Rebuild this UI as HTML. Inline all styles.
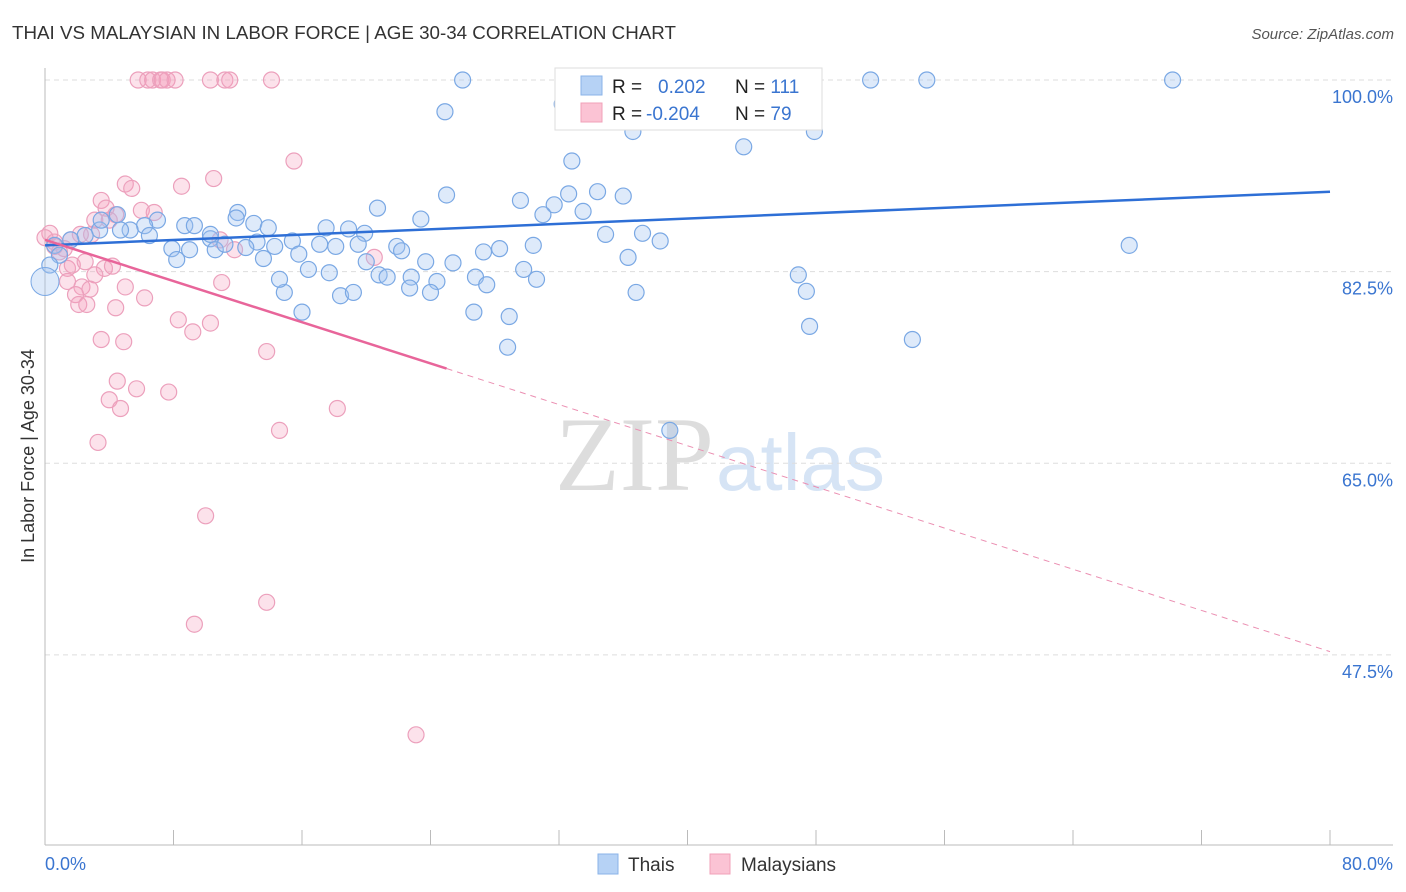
<!DOCTYPE html>
<html><head><meta charset="utf-8"><style>
body{margin:0;background:#fff;font-family:"Liberation Sans",sans-serif;}
svg{display:block}
</style></head><body>
<svg id="c" width="1406" height="892">
<text x="12" y="39" font-size="18" fill="#333" textLength="664" lengthAdjust="spacingAndGlyphs">THAI VS MALAYSIAN IN LABOR FORCE | AGE 30-34 CORRELATION CHART</text>
<text x="1394" y="39" font-size="15" fill="#555" font-style="italic" text-anchor="end">Source: ZipAtlas.com</text>
<text transform="translate(34,456) rotate(-90)" font-size="18" fill="#333" text-anchor="middle">In Labor Force | Age 30-34</text>
<text x="714" y="490" font-size="106" fill="#ddd" text-anchor="end" font-family="Liberation Serif,serif">ZIP</text>
<text x="716" y="490" font-size="80" fill="#d6e4f5">atlas</text>
<g id="grid"></g><g id="pts"></g><g id="trend"></g>
<g>
<rect x="555" y="68" width="267" height="62" fill="#fff" stroke="#ddd"/>
<rect x="581" y="76" width="21" height="19" fill="#b6d2f5" stroke="#8ab3e8"/>
<rect x="581" y="103" width="21" height="19" fill="#fbc3d4" stroke="#f0a0b8"/>
<text x="612" y="93" font-size="19" fill="#222">R = <tspan fill="#3a75d0" x="658">0.202</tspan><tspan fill="#222" x="735">N = </tspan><tspan fill="#3a75d0">111</tspan></text>
<text x="612" y="120" font-size="19" fill="#222">R = <tspan fill="#3a75d0" x="646">-0.204</tspan><tspan fill="#222" x="735">N = </tspan><tspan fill="#3a75d0">79</tspan></text>
</g>
<g>
<rect x="598" y="854" width="20" height="20" fill="#b6d2f5" stroke="#8ab3e8"/>
<text x="628" y="871" font-size="19" fill="#333">Thais</text>
<rect x="710" y="854" width="20" height="20" fill="#fbc3d4" stroke="#f0a0b8"/>
<text x="741" y="871" font-size="19" fill="#333">Malaysians</text>
</g>
</svg>
<script>
const yTicks=[100,82.5,65,47.5];
const yTickLabels=["100.0%","82.5%","65.0%","47.5%"];
const xLabels=["0.0%","80.0%"];
const blueX=[26.0,41.7,51.4,54.9,70.2,24.9,32.2,36.6,47.9,43.5,32.8,25.0,34.4,32.6,36.0,29.6,31.7,33.5,31.0,20.7,23.4,12.0,11.9,8.7,9.3,13.0,13.9,17.5,18.9,19.9,7.0,6.2,34.9,37.2,38.3,67.5,30.4,28.3,27.3,21.9,22.2,19.5,17.1,18.1,15.4,13.2,12.5,14.3,10.3,10.6,7.9,9.0,8.2,11.2,10.3,6.5,5.3,4.7,3.4,2.5,1.6,0.6,0.9,0.3,3.5,4.5,36.3,13.6,15.8,16.4,17.7,20.0,20.8,21.3,22.8,23.7,25.4,24.4,22.7,24.0,26.8,27.5,29.8,30.6,46.9,47.4,36.8,14.9,18.4,19.2,16.0,26.7,28.9,47.6,54.0,28.8,38.9,14.6];
const blueY=[100,100,100,100,100,97.1,97.8,95.3,95.3,93.9,92.6,89.5,89.8,89.6,89.4,89.0,88.6,88.0,87.7,88.3,87.3,87.9,87.4,86.7,86.7,86.9,86.5,86.5,86.4,86.0,87.2,86.7,85.9,86.0,85.3,84.9,84.9,84.6,84.3,84.8,84.4,85.0,85.0,84.8,85.3,85.2,84.7,84.8,85.5,84.5,84.6,84.5,83.6,85.0,85.9,85.8,86.3,86.3,86.3,85.8,85.4,84.9,84.0,83.1,87.2,87.7,83.8,83.7,84.1,82.7,82.4,83.4,82.2,82.0,82.0,83.4,83.3,81.6,81.0,80.6,82.0,81.3,82.7,81.8,82.2,80.7,80.6,80.6,80.3,80.6,78.8,78.8,78.4,77.5,76.3,75.6,68.0,81.8];
const pinkX=[5.8,6.4,6.7,7.2,7.3,7.6,8.1,10.3,11.2,11.5,14.1,15.5,8.5,10.5,5.0,5.4,3.5,3.8,4.4,6.0,6.8,3.1,4.0,2.9,2.2,1.6,1.2,0.6,0.3,0.9,1.4,1.7,2.5,3.7,4.2,3.1,1.4,2.3,2.8,1.9,2.1,2.6,5.0,6.2,4.4,11.0,8.3,10.3,9.2,3.5,4.9,13.8,4.5,5.7,7.7,4.0,4.7,18.2,14.6,3.3,10.0,13.8,9.3,23.1,10.9,11.8,20.5,0,0.6];
const pinkY=[100,100,100,100,100,100,100,100,100,100,100,92.6,90.3,91.0,90.5,90.1,89.0,88.3,87.7,88.1,87.9,87.2,87.2,85.9,85.9,85.4,84.6,84.8,86.0,84.3,82.8,83.1,83.4,82.8,83.0,82.2,81.6,81.1,80.9,80.4,79.5,79.5,81.1,80.1,79.2,81.5,78.1,77.8,77.0,76.3,76.1,75.2,72.5,71.8,71.5,70.8,70.0,70.0,68.0,66.9,60.2,52.3,50.3,40.2,85.4,84.5,83.8,85.6,85.2];
const blueTrend=[84.9,89.8];
const pinkTrend=[85.4,47.8];
const pinkSolidEnd=25;
const NS="http://www.w3.org/2000/svg";
const X0=45,X1=1330,Y100=80,PXPER=10.95;
function sx(v){return X0+(X1-X0)*v/80;}
function sy(v){return Y100+(100-v)*PXPER;}
function mk(tag,attrs,parent){const e=document.createElementNS(NS,tag);for(const k in attrs)e.setAttribute(k,attrs[k]);parent.appendChild(e);return e;}
const grid=document.getElementById('grid');
yTicks.forEach((t,i)=>{
 const l=mk('line',{x1:45,x2:1393,y1:sy(t),y2:sy(t),stroke:'#ddd','stroke-dasharray':'5,4'},grid);
 
 
 const tx=mk('text',{x:1393,y:sy(t)+23,'font-size':18,fill:'#3a75d0','text-anchor':'end'},grid);
 tx.textContent=yTickLabels[i];
 
 
});
mk('line',{x1:45,x2:45,y1:68,y2:845,stroke:'#bbb'},grid);
mk('line',{x1:45,x2:1393,y1:845,y2:845,stroke:'#bbb'},grid);
for(let i=0;i<=10;i++){const t=mk('line',{x1:sx(i*8),x2:sx(i*8),y1:830,y2:845,stroke:'#bbb'},grid);
 
 }
[[0,'start',45],[80,'end',1393]].forEach((a,i)=>{const tx=mk('text',{x:a[2],y:870,'font-size':18,fill:'#3a75d0','text-anchor':a[1]},grid);tx.textContent=xLabels[i];
 
 });
const pts=document.getElementById('pts');
pinkX.forEach((x,i)=>{const c=mk('circle',{cx:sx(x),cy:sy(pinkY[i]),r:8,fill:'rgba(245,160,190,0.3)',stroke:'#eca0bc','stroke-width':1.2},pts);
 
 });
blueX.forEach((x,i)=>{const c=mk('circle',{cx:sx(x),cy:sy(blueY[i]),r:8,fill:'rgba(160,196,240,0.35)',stroke:'#7aa8e4','stroke-width':1.2},pts);
 
 });
const big=mk('circle',{cx:sx(0),cy:sy(81.6),r:14,fill:'rgba(160,196,240,0.35)',stroke:'#7aa8e4'},pts);


const tr=document.getElementById('trend');
const bl=mk('line',{x1:sx(0),y1:sy(blueTrend[0]),x2:sx(80),y2:sy(blueTrend[1]),stroke:'#2e6fd6','stroke-width':2.5},tr);


const pm=pinkTrend[0]+(pinkTrend[1]-pinkTrend[0])*pinkSolidEnd/80;
const pl=mk('line',{x1:sx(0),y1:sy(pinkTrend[0]),x2:sx(pinkSolidEnd),y2:sy(pm),stroke:'#e8659a','stroke-width':2.5},tr);


const pd=mk('line',{x1:sx(pinkSolidEnd),y1:sy(pm),x2:sx(80),y2:sy(pinkTrend[1]),stroke:'#eb8fb2','stroke-width':1,'stroke-dasharray':'6,5'},tr);


</script>
</body></html>
